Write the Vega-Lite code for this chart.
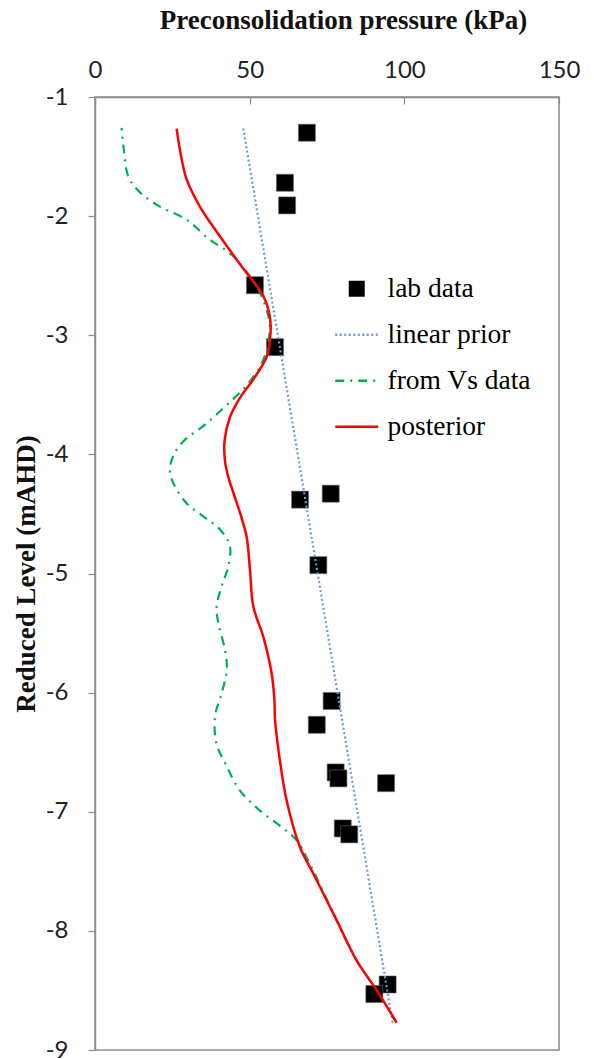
{
  "$schema": "https://vega.github.io/schema/vega-lite/v6.json",
  "width": 464,
  "height": 953,
  "autosize": "none",
  "padding": {"left": 95, "top": 97, "right": 35, "bottom": 9},
  "background": "white",
  "config": {
    "view": {"stroke": "#8c8c8c", "strokeWidth": 1.5},
    "axis": {"grid": false, "domainColor": "#8c8c8c", "domainWidth": 1.5, "tickColor": "#8c8c8c", "tickWidth": 1.2, "labelFont": "Lato", "labelFontSize": 24, "labelColor": "#222222", "titleFont": "Liberation Serif", "titleFontSize": 27, "titleFontWeight": "bold", "titleColor": "#111111"}
  },
  "datasets": {
    "lab": [
      {"series": "lab data", "p": 68.5, "rl": -1.30},
      {"series": "lab data", "p": 61.4, "rl": -1.72},
      {"series": "lab data", "p": 62.1, "rl": -1.91},
      {"series": "lab data", "p": 51.7, "rl": -2.58},
      {"series": "lab data", "p": 58.2, "rl": -3.10},
      {"series": "lab data", "p": 66.3, "rl": -4.38},
      {"series": "lab data", "p": 76.2, "rl": -4.33},
      {"series": "lab data", "p": 72.2, "rl": -4.93},
      {"series": "lab data", "p": 76.5, "rl": -6.07},
      {"series": "lab data", "p": 71.7, "rl": -6.27},
      {"series": "lab data", "p": 77.8, "rl": -6.67},
      {"series": "lab data", "p": 78.7, "rl": -6.72},
      {"series": "lab data", "p": 94.1, "rl": -6.76},
      {"series": "lab data", "p": 80.1, "rl": -7.14},
      {"series": "lab data", "p": 82.2, "rl": -7.19},
      {"series": "lab data", "p": 94.6, "rl": -8.45},
      {"series": "lab data", "p": 90.3, "rl": -8.53}
    ],
    "prior": [
      {"series": "linear prior", "p": 47.9, "rl": -1.26},
      {"series": "linear prior", "p": 68.0, "rl": -4.38},
      {"series": "linear prior", "p": 96.2, "rl": -8.77}
    ],
    "vs": [
      {"series": "from Vs data", "p": 8.6, "rl": -1.26},
      {"series": "from Vs data", "p": 9.2, "rl": -1.41},
      {"series": "from Vs data", "p": 10.8, "rl": -1.67},
      {"series": "from Vs data", "p": 14.5, "rl": -1.80},
      {"series": "from Vs data", "p": 21.0, "rl": -1.92},
      {"series": "from Vs data", "p": 29.6, "rl": -2.03},
      {"series": "from Vs data", "p": 37.2, "rl": -2.20},
      {"series": "from Vs data", "p": 43.6, "rl": -2.31},
      {"series": "from Vs data", "p": 48.5, "rl": -2.45},
      {"series": "from Vs data", "p": 52.3, "rl": -2.59},
      {"series": "from Vs data", "p": 55.0, "rl": -2.75},
      {"series": "from Vs data", "p": 56.5, "rl": -2.92},
      {"series": "from Vs data", "p": 55.5, "rl": -3.12},
      {"series": "from Vs data", "p": 53.0, "rl": -3.28},
      {"series": "from Vs data", "p": 48.0, "rl": -3.45},
      {"series": "from Vs data", "p": 42.0, "rl": -3.60},
      {"series": "from Vs data", "p": 35.6, "rl": -3.75},
      {"series": "from Vs data", "p": 29.0, "rl": -3.88},
      {"series": "from Vs data", "p": 25.5, "rl": -4.00},
      {"series": "from Vs data", "p": 24.2, "rl": -4.13},
      {"series": "from Vs data", "p": 25.3, "rl": -4.24},
      {"series": "from Vs data", "p": 29.6, "rl": -4.41},
      {"series": "from Vs data", "p": 35.0, "rl": -4.52},
      {"series": "from Vs data", "p": 40.4, "rl": -4.63},
      {"series": "from Vs data", "p": 43.6, "rl": -4.77},
      {"series": "from Vs data", "p": 43.1, "rl": -4.94},
      {"series": "from Vs data", "p": 40.9, "rl": -5.11},
      {"series": "from Vs data", "p": 39.3, "rl": -5.28},
      {"series": "from Vs data", "p": 39.9, "rl": -5.42},
      {"series": "from Vs data", "p": 42.0, "rl": -5.64},
      {"series": "from Vs data", "p": 42.6, "rl": -5.81},
      {"series": "from Vs data", "p": 40.9, "rl": -6.01},
      {"series": "from Vs data", "p": 38.8, "rl": -6.20},
      {"series": "from Vs data", "p": 39.3, "rl": -6.43},
      {"series": "from Vs data", "p": 42.6, "rl": -6.62},
      {"series": "from Vs data", "p": 46.8, "rl": -6.82},
      {"series": "from Vs data", "p": 53.3, "rl": -6.99},
      {"series": "from Vs data", "p": 60.9, "rl": -7.14},
      {"series": "from Vs data", "p": 65.2, "rl": -7.24},
      {"series": "from Vs data", "p": 69.5, "rl": -7.44},
      {"series": "from Vs data", "p": 78.1, "rl": -7.91},
      {"series": "from Vs data", "p": 84.6, "rl": -8.25},
      {"series": "from Vs data", "p": 91.1, "rl": -8.50},
      {"series": "from Vs data", "p": 97.5, "rl": -8.77}
    ],
    "post": [
      {"series": "posterior", "p": 26.4, "rl": -1.265},
      {"series": "posterior", "p": 27.5, "rl": -1.45},
      {"series": "posterior", "p": 29.6, "rl": -1.69},
      {"series": "posterior", "p": 33.9, "rl": -1.92},
      {"series": "posterior", "p": 38.5, "rl": -2.10},
      {"series": "posterior", "p": 42.6, "rl": -2.25},
      {"series": "posterior", "p": 47.9, "rl": -2.44},
      {"series": "posterior", "p": 51.5, "rl": -2.56},
      {"series": "posterior", "p": 54.4, "rl": -2.67},
      {"series": "posterior", "p": 56.2, "rl": -2.80},
      {"series": "posterior", "p": 56.8, "rl": -2.93},
      {"series": "posterior", "p": 56.5, "rl": -3.05},
      {"series": "posterior", "p": 55.5, "rl": -3.18},
      {"series": "posterior", "p": 51.2, "rl": -3.37},
      {"series": "posterior", "p": 47.0, "rl": -3.52},
      {"series": "posterior", "p": 43.6, "rl": -3.69},
      {"series": "posterior", "p": 41.9, "rl": -3.88},
      {"series": "posterior", "p": 42.0, "rl": -4.05},
      {"series": "posterior", "p": 43.0, "rl": -4.18},
      {"series": "posterior", "p": 44.7, "rl": -4.32},
      {"series": "posterior", "p": 47.0, "rl": -4.50},
      {"series": "posterior", "p": 49.0, "rl": -4.69},
      {"series": "posterior", "p": 50.1, "rl": -4.97},
      {"series": "posterior", "p": 51.2, "rl": -5.28},
      {"series": "posterior", "p": 54.4, "rl": -5.53},
      {"series": "posterior", "p": 57.1, "rl": -5.84},
      {"series": "posterior", "p": 58.0, "rl": -6.06},
      {"series": "posterior", "p": 58.2, "rl": -6.23},
      {"series": "posterior", "p": 59.3, "rl": -6.48},
      {"series": "posterior", "p": 61.9, "rl": -6.90},
      {"series": "posterior", "p": 66.3, "rl": -7.30},
      {"series": "posterior", "p": 70.6, "rl": -7.52},
      {"series": "posterior", "p": 78.1, "rl": -7.91},
      {"series": "posterior", "p": 84.6, "rl": -8.25},
      {"series": "posterior", "p": 91.1, "rl": -8.50},
      {"series": "posterior", "p": 97.5, "rl": -8.77}
    ]
  },
  "encoding": {
    "x": {"field": "p", "type": "quantitative", "scale": {"domain": [0, 150], "nice": false, "zero": false},
      "axis": {"orient": "top", "values": [0, 50, 100, 150], "labelExpr": "'' + datum.value", "title": "Preconsolidation pressure (kPa)", "titleX": 248, "tickSize": -7, "labelPadding": 22, "titlePadding": 24, "labelFlush": false}},
    "y": {"field": "rl", "type": "quantitative", "scale": {"domain": [-9, -1], "nice": false, "zero": false},
      "axis": {"orient": "left", "values": [-1, -2, -3, -4, -5, -6, -7, -8, -9], "labelExpr": "'' + datum.value", "title": "Reduced Level (mAHD)", "tickSize": 7, "labelPadding": 20, "titlePadding": 5, "labelFlush": false}},
    "color": {"field": "series", "type": "nominal",
      "scale": {"domain": ["lab data", "linear prior", "from Vs data", "posterior"], "range": ["#000000", "#6f9bd1", "#00b050", "#ff0000"]},
      "legend": {"title": null, "orient": "none", "legendX": 248, "legendY": 178, "padding": 0,
        "labelFont": "Liberation Serif", "labelFontSize": 27.5, "labelColor": "#000000", "labelOffset": 17,
        "symbolSize": 1850, "rowPadding": 17, "symbolType": "stroke",
        "encode": {"symbols": {"update": {
          "shape": {"signal": "datum.value === 'lab data' ? 'square' : 'stroke'"},
          "size": {"signal": "datum.value === 'lab data' ? 256 : 1850"},
          "fill": {"signal": "datum.value === 'lab data' ? '#000000' : 'transparent'"},
          "stroke": {"signal": "datum.value === 'lab data' ? '#000000' : datum.value === 'linear prior' ? '#6f9bd1' : datum.value === 'from Vs data' ? '#00b050' : '#ff0000'"},
          "strokeDash": {"signal": "datum.value === 'linear prior' ? [2, 2.5] : datum.value === 'from Vs data' ? [9, 6, 2, 6] : [1, 0]"},
          "strokeWidth": {"signal": "datum.value === 'lab data' ? 0 : 2.5"},
          "opacity": {"value": 1}
        }}}
      }}
  },
  "layer": [
    {"data": {"name": "lab"}, "mark": {"type": "square", "size": 289, "filled": true, "opacity": 1, "stroke": "#666666", "strokeWidth": 0.6}},
    {"data": {"name": "prior"}, "mark": {"type": "line", "strokeWidth": 2.2, "strokeDash": [2, 2.5]}, "encoding": {"order": {"field": "rl", "type": "quantitative"}}},
    {"data": {"name": "vs"}, "mark": {"type": "line", "strokeWidth": 2.2, "strokeDash": [9, 6, 2, 6], "interpolate": "catmull-rom"}, "encoding": {"order": {"field": "rl", "type": "quantitative"}}},
    {"data": {"name": "post"}, "mark": {"type": "line", "strokeWidth": 2.5, "interpolate": "catmull-rom"}, "encoding": {"order": {"field": "rl", "type": "quantitative"}}}
  ]
}
